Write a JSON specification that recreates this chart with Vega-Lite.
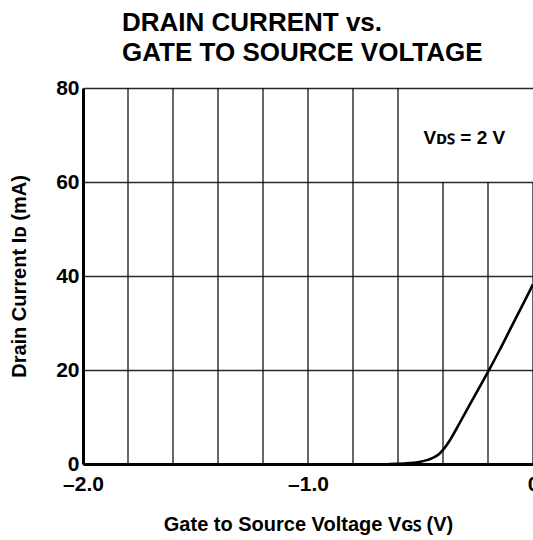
{
  "$schema": "https://vega.github.io/schema/vega-lite/v6.json",
  "width": 450,
  "height": 376,
  "autosize": {"type": "none"},
  "padding": {"left": 83, "top": 88, "right": 0, "bottom": 76},
  "background": "white",
  "config": {"font": "Liberation Sans", "view": {"stroke": null}},
  "title": {
    "text": ["DRAIN CURRENT vs.", "GATE TO SOURCE VOLTAGE"],
    "anchor": "start",
    "frame": "group",
    "dx": 39,
    "fontSize": 26,
    "fontWeight": "bold",
    "lineHeight": 30,
    "offset": 11,
    "color": "black"
  },
  "datasets": {
    "grid": [
      {"x": -1.8, "y": 80}, {"x": -1.6, "y": 80}, {"x": -1.4, "y": 80},
      {"x": -1.2, "y": 80}, {"x": -1.0, "y": 80}, {"x": -0.8, "y": 80},
      {"x": -0.6, "y": 80}, {"x": -0.4, "y": 60}, {"x": -0.2, "y": 60},
      {"x": 0.0, "y": 60}
    ],
    "curve": [
      {"x": -0.64, "y": 0}, {"x": -0.6, "y": 0.05}, {"x": -0.55, "y": 0.2},
      {"x": -0.5, "y": 0.5}, {"x": -0.45, "y": 1.2}, {"x": -0.42, "y": 2.0},
      {"x": -0.4, "y": 3.0}, {"x": -0.37, "y": 5.0}, {"x": -0.34, "y": 7.5},
      {"x": -0.3, "y": 11.0}, {"x": -0.25, "y": 15.3}, {"x": -0.2, "y": 19.6},
      {"x": -0.15, "y": 24.1}, {"x": -0.1, "y": 28.8}, {"x": -0.05, "y": 33.5},
      {"x": 0.0, "y": 38.2}
    ],
    "note": [{"x": -0.487, "y": 69.4, "label": "Vᴅꜱ = 2 V"}]
  },
  "layer": [
    {
      "data": {"name": "grid"},
      "mark": {"type": "rule", "color": "black", "strokeWidth": 1.2},
      "encoding": {
        "x": {"field": "x", "type": "quantitative"},
        "y": {"field": "y", "type": "quantitative"},
        "y2": {"datum": 0}
      }
    },
    {
      "data": {"name": "curve"},
      "mark": {"type": "line", "color": "black", "strokeWidth": 2.6, "interpolate": "monotone"},
      "encoding": {
        "x": {
          "field": "x",
          "type": "quantitative",
          "scale": {"domain": [-2, 0], "nice": false, "zero": false},
          "axis": {
            "values": [-2, -1, 0],
            "labelExpr": "datum.value == 0 ? '0' : '–' + format(-datum.value, '.1f')",
            "grid": false,
            "ticks": false,
            "domainColor": "black",
            "domainWidth": 3,
            "labelColor": "black",
            "labelFontSize": 21,
            "labelFontWeight": "bold",
            "labelPadding": 9,
            "labelFlush": false,
            "labelOverlap": false,
            "title": "Gate to Source Voltage  Vɢꜱ (V)",
            "titleColor": "black",
            "titleFontSize": 20,
            "titleFontWeight": "bold",
            "titlePadding": 20
          }
        },
        "y": {
          "field": "y",
          "type": "quantitative",
          "scale": {"domain": [0, 80], "nice": false},
          "axis": {
            "values": [0, 20, 40, 60, 80],
            "grid": true,
            "gridColor": "#2a2a2a",
            "gridWidth": 1.6,
            "ticks": false,
            "domainColor": "black",
            "domainWidth": 3,
            "labelColor": "black",
            "labelFontSize": 21,
            "labelFontWeight": "bold",
            "labelPadding": 4,
            "labelFlush": false,
            "labelOverlap": false,
            "title": "Drain Current  Iᴅ (mA)",
            "titleColor": "black",
            "titleFontSize": 20,
            "titleFontWeight": "bold",
            "titlePadding": 26
          }
        }
      }
    },
    {
      "data": {"name": "note"},
      "mark": {"type": "text", "align": "left", "baseline": "middle", "fontSize": 19, "fontWeight": "bold", "color": "black"},
      "encoding": {
        "x": {"field": "x", "type": "quantitative"},
        "y": {"field": "y", "type": "quantitative"},
        "text": {"field": "label"}
      }
    }
  ]
}
